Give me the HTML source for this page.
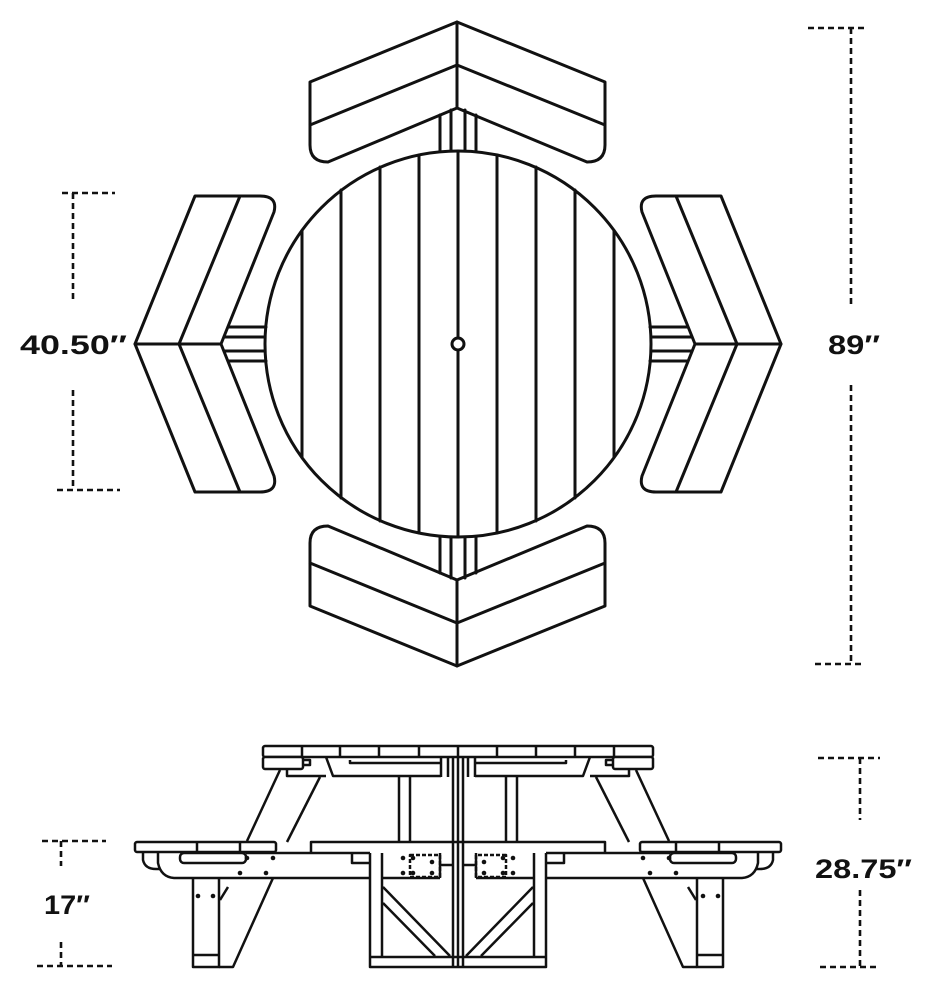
<!DOCTYPE html>
<html><head><meta charset="utf-8"><style>
html,body{margin:0;padding:0;background:#fff;}
svg{display:block;}
text{font-family:"Liberation Sans",sans-serif;font-weight:bold;fill:#111;}
</style></head><body>
<svg width="932" height="990" viewBox="0 0 932 990" xmlns="http://www.w3.org/2000/svg">
<g fill="none" stroke="#111" stroke-width="3" stroke-linejoin="round" stroke-linecap="round">
<circle cx="458" cy="344" r="193" fill="#fff"/>
<line x1="302" y1="231" x2="302" y2="457"/>
<line x1="341" y1="190" x2="341" y2="498"/>
<line x1="380" y1="167" x2="380" y2="521"/>
<line x1="419" y1="155" x2="419" y2="533"/>
<line x1="458" y1="151" x2="458" y2="537"/>
<line x1="497" y1="155" x2="497" y2="533"/>
<line x1="536" y1="167" x2="536" y2="521"/>
<line x1="575" y1="190" x2="575" y2="498"/>
<line x1="614" y1="231" x2="614" y2="457"/>
<circle cx="458" cy="344" r="6" fill="#fff"/>

<g id="tb">
<path d="M457,22 L310,82 L310,145 Q310,162 328,162 L457,108 L587,162 Q605,162 605,145 L605,82 Z" fill="#fff"/>
<path d="M310,125 L457,65 L605,125"/>
<line x1="457" y1="22" x2="457" y2="108"/>
<line x1="440" y1="115" x2="440" y2="151"/>
<line x1="451" y1="110" x2="451" y2="151"/>
<line x1="465" y1="110" x2="465" y2="151"/>
<line x1="476" y1="115" x2="476" y2="151"/>
</g>
<use href="#tb" transform="translate(0,688) scale(1,-1)"/>

<g id="lb">
<path d="M135,344 L195,196 L260,196 Q278,196 274,212 L221,344 L274,476 Q278,492 260,492 L195,492 Z" fill="#fff"/>
<path d="M240,196 L179,344 L240,492"/>
<line x1="135" y1="344" x2="221" y2="344"/>
<line x1="229" y1="327" x2="266" y2="327"/>
<line x1="224" y1="337" x2="265" y2="337"/>
<line x1="224" y1="351" x2="265" y2="351"/>
<line x1="229" y1="361" x2="266" y2="361"/>
</g>
<use href="#lb" transform="translate(916,0) scale(-1,1)"/>
</g>

<g fill="none" stroke="#111" stroke-width="2.6" stroke-dasharray="6,4">
<line x1="62" y1="193" x2="115" y2="193"/>
<line x1="73" y1="193" x2="73" y2="300"/>
<line x1="73" y1="390" x2="73" y2="490"/>
<line x1="57" y1="490" x2="120" y2="490"/>
<line x1="808" y1="28" x2="868" y2="28"/>
<line x1="851" y1="28" x2="851" y2="305"/>
<line x1="851" y1="385" x2="851" y2="664"/>
<line x1="815" y1="664" x2="865" y2="664"/>
<line x1="42" y1="841" x2="106" y2="841"/>
<line x1="61" y1="841" x2="61" y2="866"/>
<line x1="61" y1="942" x2="61" y2="966"/>
<line x1="37" y1="966" x2="112" y2="966"/>
<line x1="818" y1="758" x2="880" y2="758"/>
<line x1="860" y1="758" x2="860" y2="820"/>
<line x1="860" y1="890" x2="860" y2="967"/>
<line x1="820" y1="967" x2="880" y2="967"/>
</g>
<text x="20" y="354" font-size="27" textLength="107" lengthAdjust="spacingAndGlyphs">40.50″</text>
<text x="828" y="354" font-size="27" textLength="52" lengthAdjust="spacingAndGlyphs">89″</text>
<text x="44" y="914" font-size="27" textLength="46" lengthAdjust="spacingAndGlyphs">17″</text>
<text x="815" y="878" font-size="27" textLength="97" lengthAdjust="spacingAndGlyphs">28.75″</text>

<g fill="none" stroke="#111" stroke-width="2.5" stroke-linejoin="round">
<rect x="263" y="746" width="390" height="11" rx="2" fill="#fff"/>
<path d="M302,746V757M340,746V757M379,746V757M419,746V757M458,746V757M497,746V757M536,746V757M575,746V757M614,746V757"/>
<g id="sh">
<rect x="263" y="757" width="40" height="12" rx="2" fill="#fff"/>
<path d="M303,760 H310 V765 H303"/>
<path d="M326,757 L333,776 H441"/>
<path d="M287,769 V776 H326"/>
<path d="M350,760 V763 H441"/>
<path d="M441,757 V777 M448,757 V777"/>
<path d="M399,777 V842 M410,777 V842"/>
<path d="M280,770 L247,841"/>
<path d="M320,777 L287,842"/>
<path d="M273,878 L233,967 H219"/>
<path d="M228,887 L220,900"/>
<rect x="135" y="842" width="141" height="10" rx="2" fill="#fff"/>
<path d="M197,842V852M240,842V852"/>
<path d="M311,852 V842 H458"/>
<path d="M143,853 V860 Q145,869 156,869 H160"/>
<path d="M158,853 V863 Q161,877 174,878 H193"/>
<rect x="180" y="853" width="66" height="10" rx="4"/>
<path d="M246,853 H370 M193,878 H370"/>
<path d="M352,853 V863 H370"/>
<path d="M193,878 V967 H219 V878 M193,955 H219"/>
<path d="M370,853 V967 H458 M370,957 H458 M382,853 V957 M382,878 H440 M440,853 V878 M440,865 H453"/>
<path d="M383,887 L450,956 M383,903 L435,956"/>
<path d="M453,757 V967"/>
<rect x="410" y="855" width="30" height="22" stroke-dasharray="4,2"/>
</g>
<use href="#sh" transform="translate(916,0) scale(-1,1)"/>
<path d="M458,757 V967" />
</g>
<g fill="#111">
<circle cx="247" cy="858" r="2.3"/><circle cx="273" cy="858" r="2.3"/>
<circle cx="240" cy="873" r="2.3"/><circle cx="266" cy="873" r="2.3"/>
<circle cx="198" cy="896" r="2.3"/><circle cx="213" cy="896" r="2.3"/>
<circle cx="403" cy="858" r="2.3"/><circle cx="403" cy="873" r="2.3"/>
<circle cx="413" cy="858" r="2.3"/><circle cx="413" cy="873" r="2.3"/>
<circle cx="432" cy="862" r="2.3"/><circle cx="432" cy="873" r="2.3"/>
<circle cx="669" cy="858" r="2.3"/><circle cx="643" cy="858" r="2.3"/>
<circle cx="676" cy="873" r="2.3"/><circle cx="650" cy="873" r="2.3"/>
<circle cx="718" cy="896" r="2.3"/><circle cx="703" cy="896" r="2.3"/>
<circle cx="513" cy="858" r="2.3"/><circle cx="513" cy="873" r="2.3"/>
<circle cx="503" cy="858" r="2.3"/><circle cx="503" cy="873" r="2.3"/>
<circle cx="484" cy="862" r="2.3"/><circle cx="484" cy="873" r="2.3"/>
</g>
</svg>
</body></html>
